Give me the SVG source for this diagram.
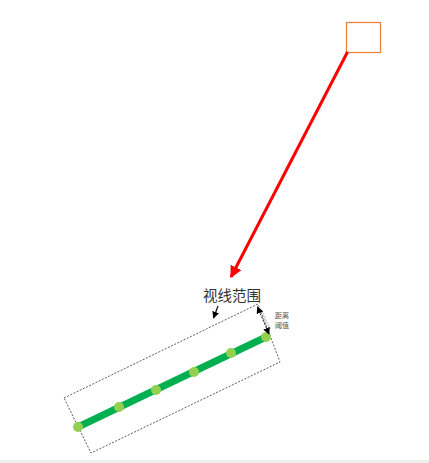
<svg xmlns="http://www.w3.org/2000/svg" width="429" height="463" viewBox="0 0 429 463">
<defs>
<style>
.lbl{font-family:"Noto Sans CJK SC","Noto Sans CJK JP",sans-serif;}
.dot{fill:#92d050;}
</style>
<marker id="redhead" viewBox="0 0 10 10" refX="9" refY="5" markerWidth="4" markerHeight="4" orient="auto" markerUnits="strokeWidth">
<path d="M0,0 L10,5 L0,10 z" fill="#ff0000"/>
</marker>
<marker id="blk" viewBox="0 0 10 10" refX="9" refY="5" markerWidth="7" markerHeight="7" orient="auto-start-reverse" markerUnits="userSpaceOnUse">
<path d="M0,0 L10,5 L0,10 z" fill="#000"/>
</marker>
</defs>
<rect width="429" height="463" fill="#fff"/>
<rect x="0" y="460" width="429" height="3" fill="#eeeeee"/>
<g id="target">
<rect x="346.5" y="22.5" width="34" height="30" fill="none" stroke="#ed7d31" stroke-width="1.2"/>
</g>
<g id="range">
<polygon points="64,398 258,304 280,362 91,453" fill="none" stroke="#333" stroke-width="0.8" stroke-dasharray="2,1.5"/>
<text class="lbl" x="203" y="301" font-size="14.5" fill="#333">视线范围</text>
<text class="lbl" x="275" y="318" font-size="7" fill="#555">距离</text>
<text class="lbl" x="275" y="328" font-size="7" fill="#555">阈值</text>
</g>
<g id="path">
<line x1="78" y1="427" x2="266" y2="337" stroke="#00b050" stroke-width="7"/>
<circle class="dot" cx="78" cy="427" r="5"/>
<circle class="dot" cx="119" cy="407" r="5"/>
<circle class="dot" cx="156" cy="390" r="5"/>
<circle class="dot" cx="194" cy="372" r="5"/>
<circle class="dot" cx="231" cy="353" r="5"/>
<circle class="dot" cx="266" cy="337" r="5"/>
</g>
<g id="connectors">
<line x1="347.5" y1="52" x2="231" y2="277" stroke="#ff0000" stroke-width="3" marker-end="url(#redhead)"/>
<line x1="218" y1="306" x2="213.5" y2="318" stroke="#000" stroke-width="1.2" marker-end="url(#blk)"/>
<line x1="262" y1="311" x2="270.5" y2="330" stroke="#c8c8c8" stroke-width="1.5" stroke-dasharray="2,1"/>
<line x1="257.5" y1="307" x2="269" y2="334" stroke="#000" stroke-width="0.9" stroke-dasharray="2,1.5" marker-start="url(#blk)" marker-end="url(#blk)"/>
</g>
</svg>
